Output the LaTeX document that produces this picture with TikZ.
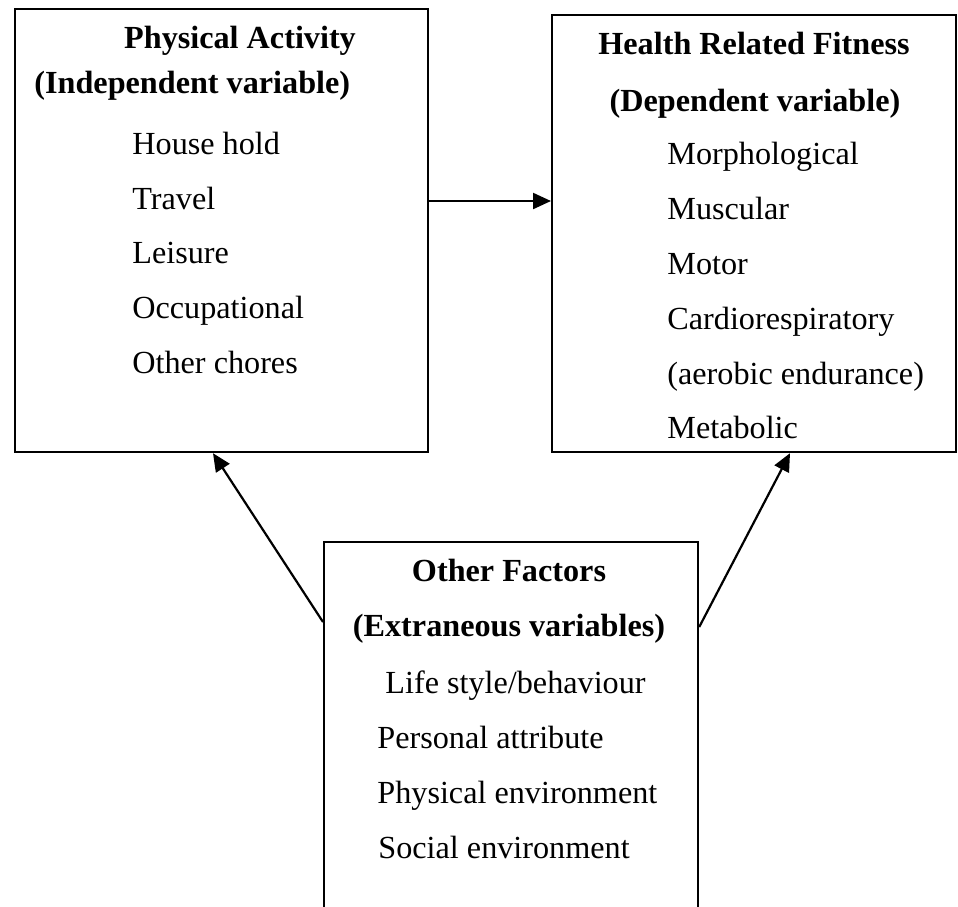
\documentclass[tikz,border=0pt]{standalone}
\usepackage{fontspec}
\setmainfont{Liberation Serif}
\usetikzlibrary{arrows.meta}
\begin{document}
\begin{tikzpicture}[x=0.5pt,y=-0.5pt,
 box/.style={draw, line width=1.1pt, inner sep=0pt, anchor=north west},
 lbl/.style={inner sep=0pt, anchor=base west, font=\fontsize{16.1pt}{18pt}\selectfont},
 head/.style={inner sep=0pt, anchor=base, font=\fontsize{16.1pt}{18pt}\selectfont\bfseries},
 arr/.style={line width=1.1pt, -{Triangle[length=9pt,width=8pt]}}]
\clip (0,0) rectangle (958,906);
% boxes
\node[box, minimum width=206.5pt, minimum height=221.5pt] (pa) at (14,8) {};
\node[box, minimum width=202pt, minimum height=218.5pt] (hrf) at (551,14) {};
\node[box, minimum width=187pt, minimum height=187pt] (of) at (323,541) {};
% box 1 text
\node[head] (pa1) at (240,48) {Physical Activity};
\node[head, anchor=base west] (pa2) at (34,93) {(Independent variable)};
\node[lbl] (pa3) at (132,154) {House hold};
\node[lbl] (pa4) at (132,209) {Travel};
\node[lbl] (pa5) at (132,263) {Leisure};
\node[lbl] (pa6) at (132,318) {Occupational};
\node[lbl] (pa7) at (132,373) {Other chores};
% box 2 text
\node[head] (h1) at (754,54) {Health Related Fitness};
\node[head] (h2) at (755,111) {(Dependent variable)};
\node[lbl] (h3) at (667,164) {Morphological};
\node[lbl] (h4) at (667,219) {Muscular};
\node[lbl] (h5) at (667,274) {Motor};
\node[lbl] (h6) at (667,329) {Cardiorespiratory};
\node[lbl] (h7) at (667,384) {(aerobic endurance)};
\node[lbl] (h8) at (667,438) {Metabolic};
% box 3 text
\node[head] (o1) at (509,581) {Other Factors};
\node[head] (o2) at (509,636) {(Extraneous variables)};
\node[lbl] (o3) at (385,693) {Life style/behaviour};
\node[lbl] (o4) at (377,748) {Personal attribute};
\node[lbl] (o5) at (377,803) {Physical environment};
\node[lbl] (o6) at (378,858) {Social environment};
% connectors
\coordinate (hy) at (0,201);
\coordinate (l1) at (0,622);
\coordinate (t1) at (213,0);
\coordinate (r1) at (0,627);
\coordinate (t2) at (790,0);
\draw[arr] (pa.east |- hy) -- (hrf.west |- hy);
\draw[arr] (of.west |- l1) -- (pa.south -| t1);
\draw[arr] (of.east |- r1) -- (hrf.south -| t2);
\end{tikzpicture}
\end{document}
